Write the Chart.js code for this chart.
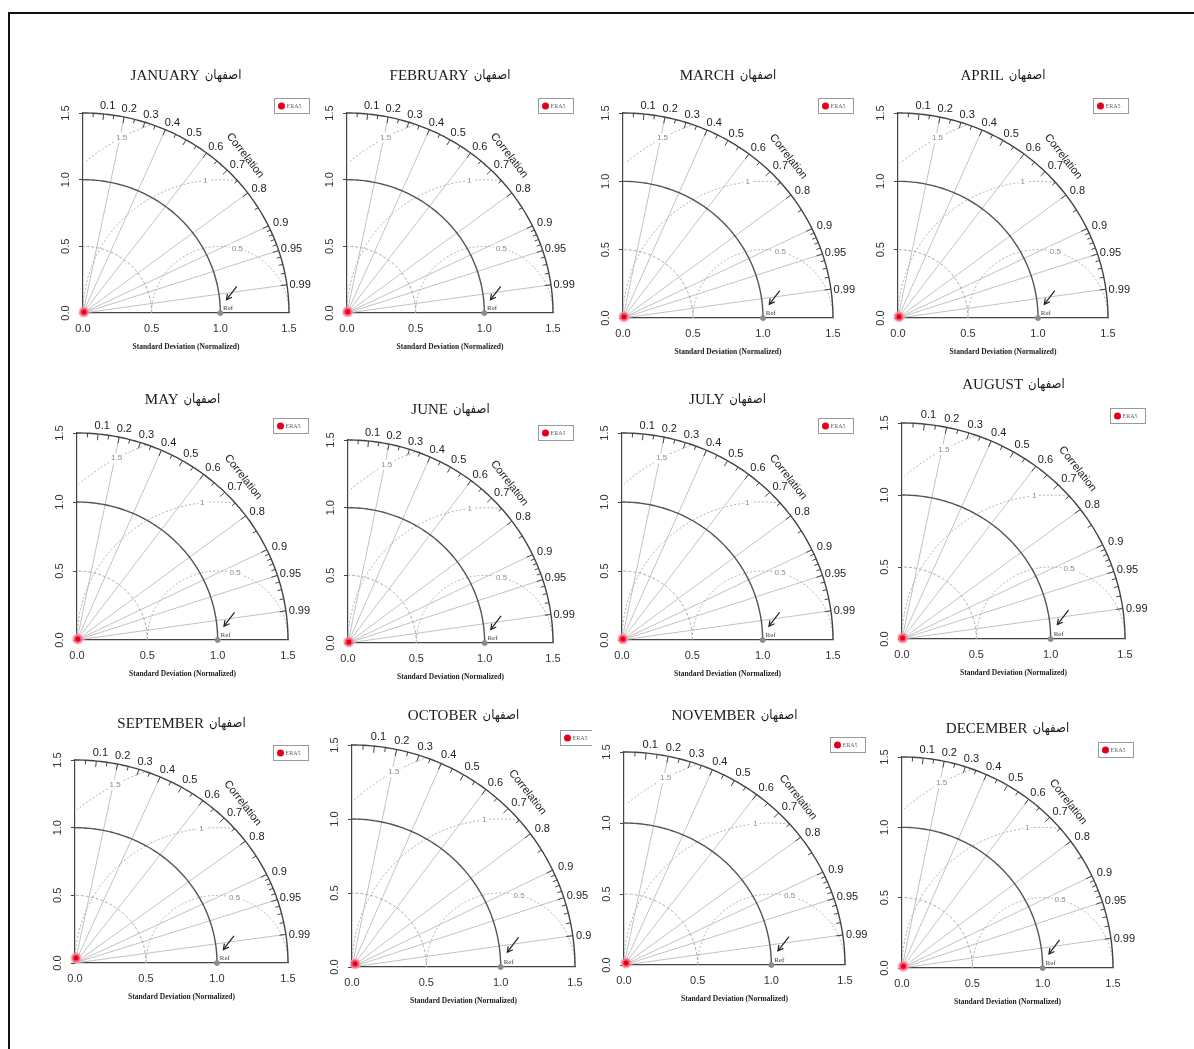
<!DOCTYPE html>
<html lang="en">
<head>
<meta charset="UTF-8">
<title>Taylor diagrams - Isfahan</title>
<script src="https://cdn.jsdelivr.net/npm/chart.js"></script>
<style>
    body {
        margin: 0;
        background: #fff;
        width: 1194px;
        height: 1049px;
        overflow: hidden;
        position: relative;
    }
    #frame {
        position: absolute;
        left: 8px;
        top: 12px;
        width: 1300px;
        height: 1100px;
        border-left: 2px solid #111;
        border-top: 2px solid #111;
    }
    canvas { position: absolute; }
</style>
</head>
<body>
<div id="frame"></div>
<script>
// ---- data ----
const months = ['JANUARY', 'FEBRUARY', 'MARCH', 'APRIL', 'MAY', 'JUNE',
                'JULY', 'AUGUST', 'SEPTEMBER', 'OCTOBER', 'NOVEMBER', 'DECEMBER'];
const station = 'اصفهان';
const seriesName = 'ERA5';
// normalized standard deviation and correlation of ERA5 for each month
const era5Sd   = [0.010, 0.010, 0.012, 0.012, 0.010, 0.010, 0.010, 0.008, 0.037, 0.030, 0.020, 0.015];
const era5Corr = [0.70, 0.50, 0.60, 0.60, 0.60, 0.60, 0.60, 0.50, 0.20, 0.70, 0.70, 0.60];
const refSd = 1.0;
const sdMax = 1.5;
const axisTicks = [0, 0.5, 1.0, 1.5];
const corrLabels = [0.1, 0.2, 0.3, 0.4, 0.5, 0.6, 0.7, 0.8, 0.9, 0.95, 0.99];
const corrMinor = [0.05, 0.15, 0.25, 0.35, 0.45, 0.55, 0.65, 0.75, 0.85, 0.91, 0.92, 0.93, 0.94, 0.96, 0.97, 0.98];
const corrRays = [0.2, 0.4, 0.6, 0.8, 0.9, 0.95, 0.99];
const rmsLevels = [0.5, 1, 1.5];

// panel placement: origin x, origin y, px for 1.5 on x, px for 1.5 on y, title y
const panelBoxes = [
    [83, 313, 206, 200, 76], [347, 313, 206, 200, 76], [623, 318, 210, 205, 76], [898, 318, 210, 205, 76],
    [77, 640, 211, 207, 400], [348, 643, 205, 203, 410], [622, 640, 211, 207, 400], [902, 639, 223, 216, 385],
    [75, 963, 213, 203, 724], [352, 967, 223, 222, 716], [624, 965, 221, 213, 716], [902, 968, 211, 211, 729]
];

const SANS = "'Liberation Sans', Arial, sans-serif";
const SERIF = "'Liberation Serif', 'DejaVu Serif', serif";
const FARSI = "'DejaVu Sans Condensed', 'DejaVu Sans', sans-serif";
const rmsLabelAngles = [1.32, 1.68, 2.07];

// Taylor diagram grid drawn through the chart's own scales
const taylorGrid = {
    id: 'taylorGrid',
    beforeDatasetsDraw(chart) {
        const { ctx, scales: { x: xs, y: ys } } = chart;
        const px = (x, y) => [xs.getPixelForValue(x), ys.getPixelForValue(y)];
        const polar = (r, t) => px(r * Math.cos(t), r * Math.sin(t));
        const path = pts => {
            ctx.beginPath();
            pts.forEach((p, k) => k ? ctx.lineTo(p[0], p[1]) : ctx.moveTo(p[0], p[1]));
            ctx.stroke();
        };
        const sdArc = r => {
            const pts = [];
            for (let d = 0; d <= 90; d++) pts.push(polar(r, d * Math.PI / 180));
            return pts;
        };
        ctx.save();

        // correlation rays
        ctx.strokeStyle = '#c2c2c2';
        ctx.lineWidth = 1;
        corrRays.forEach(c => path([px(0, 0), polar(sdMax, Math.acos(c))]));

        // centered RMS arcs around the reference
        ctx.setLineDash([2, 2]);
        ctx.strokeStyle = '#b0b0b0';
        rmsLevels.forEach(g => {
            const pts = [];
            for (let d = 0; d <= 180; d++) {
                const t = d * Math.PI / 180;
                const x = refSd + g * Math.cos(t), y = g * Math.sin(t);
                if (x >= -1e-9 && x * x + y * y <= sdMax * sdMax + 1e-9) pts.push(px(x, y));
            }
            path(pts);
        });
        ctx.setLineDash([]);
        ctx.font = '8px ' + SANS;
        ctx.textAlign = 'center';
        ctx.textBaseline = 'middle';
        rmsLevels.forEach((g, k) => {
            const t = rmsLabelAngles[k];
            const [lx, ly] = px(refSd + g * Math.cos(t), g * Math.sin(t));
            const w = ctx.measureText(String(g)).width + 4;
            ctx.fillStyle = '#fff';
            ctx.fillRect(lx - w / 2, ly - 5, w, 10);
            ctx.fillStyle = '#8a8a8a';
            ctx.fillText(String(g), lx, ly);
        });

        // sd arcs
        ctx.setLineDash([3, 2]);
        ctx.strokeStyle = '#9ea2c6';
        path(sdArc(0.5));
        ctx.setLineDash([]);
        ctx.strokeStyle = '#555';
        ctx.lineWidth = 1.4;
        path(sdArc(refSd));
        ctx.strokeStyle = '#444';
        path(sdArc(sdMax));

        // ticks on the outer arc
        ctx.lineWidth = 1;
        corrMinor.forEach(c => path([polar(sdMax, Math.acos(c)), polar(sdMax - 0.03, Math.acos(c))]));
        corrLabels.forEach(c => path([polar(sdMax, Math.acos(c)), polar(sdMax - 0.045, Math.acos(c))]));

        // correlation labels
        ctx.fillStyle = '#222';
        ctx.font = '11px ' + SANS;
        corrLabels.forEach(c => {
            const [lx, ly] = polar(sdMax * 1.05, Math.acos(c));
            ctx.fillText(String(c), lx + 3, ly + 2);
        });
        const [cx, cy] = polar(1.67, Math.PI / 4);
        ctx.save();
        ctx.translate(cx, cy);
        ctx.rotate(52 * Math.PI / 180);
        ctx.fillText('Correlation', 0, 0);
        ctx.restore();

        // reference label and arrow
        ctx.font = '7px ' + SERIF;
        ctx.textAlign = 'left';
        ctx.fillStyle = '#444';
        const [rx, ry] = px(refSd + 0.02, 0.035);
        ctx.fillText('Ref', rx, ry);
        const [ax0, ay0] = px(refSd + 0.12, 0.2);
        const [ax1, ay1] = px(refSd + 0.045, 0.1);
        ctx.strokeStyle = '#222';
        ctx.lineWidth = 1.2;
        path([[ax0, ay0], [ax1, ay1]]);
        const ang = Math.atan2(ay1 - ay0, ax1 - ax0);
        path([[ax1 - 6 * Math.cos(ang - 0.5), ay1 - 6 * Math.sin(ang - 0.5)], [ax1, ay1],
              [ax1 - 6 * Math.cos(ang + 0.5), ay1 - 6 * Math.sin(ang + 0.5)]]);
        ctx.restore();
    },
    afterDraw(chart, args, opts) {
        const { ctx, chartArea: ca } = chart;
        ctx.save();

        // panel title: month in serif, station name in a narrow Arabic-script font
        ctx.textBaseline = 'middle';
        ctx.textAlign = 'left';
        ctx.fillStyle = '#1a1a1a';
        ctx.font = '15px ' + SERIF;
        const wL = ctx.measureText(opts.month).width;
        ctx.font = '13px ' + FARSI;
        const wP = ctx.measureText(opts.station).width;
        const x0 = (ca.left + ca.right) / 2 - (wL + 5 + wP) / 2;
        ctx.font = '15px ' + SERIF;
        ctx.fillText(opts.month, x0, opts.titleY);
        ctx.font = '13px ' + FARSI;
        ctx.fillText(opts.station, x0 + wL + 5, opts.titleY);

        // small boxed legend at the top right
        const ds = chart.data.datasets[0];
        const bx = Math.round(ca.right - 15) + 0.5, by = Math.round(ca.top - 15) + 0.5;
        ctx.fillStyle = '#fff';
        ctx.fillRect(bx, by, 35, 15);
        ctx.strokeStyle = '#999';
        ctx.lineWidth = 1;
        ctx.strokeRect(bx, by, 35, 15);
        ctx.beginPath();
        ctx.arc(bx + 7, by + 7.5, 3.5, 0, Math.PI * 2);
        ctx.fillStyle = ds.backgroundColor;
        ctx.fill();
        ctx.fillStyle = '#666';
        ctx.font = '6px ' + SERIF;
        ctx.fillText(ds.label, bx + 12, by + 8);
        ctx.restore();
    }
};

const L = 34, B = 38;
months.forEach((month, i) => {
    const [ox, oy, rx, ry, ty] = panelBoxes[i];
    const padR = i === 9 ? 17 : 32;
    const top = ty - 14;
    const W = L + rx + padR, H = (oy - top) + B + 4;
    const cv = document.createElement('canvas');
    cv.width = W;
    cv.height = H;
    cv.style.left = (ox - L) + 'px';
    cv.style.top = top + 'px';
    cv.style.width = W + 'px';
    cv.style.height = H + 'px';
    document.body.appendChild(cv);

    const s = era5Sd[i], c = era5Corr[i];
    new Chart(cv, {
        type: 'scatter',
        data: {
            datasets: [
                {
                    label: seriesName,
                    data: [{ x: s * c, y: s * Math.sqrt(1 - c * c) }],
                    backgroundColor: '#e3001b',
                    borderColor: 'rgba(255, 140, 160, 0.7)',
                    borderWidth: 3,
                    pointRadius: 4,
                    clip: false
                },
                {
                    label: 'Ref',
                    data: [{ x: refSd, y: 0 }],
                    backgroundColor: '#8c8c8c',
                    borderColor: '#8c8c8c',
                    pointRadius: 2.5,
                    clip: false
                }
            ]
        },
        options: {
            responsive: false,
            animation: false,
            devicePixelRatio: 1,
            layout: { padding: { left: 0, right: padR, top: (oy - ry) - top, bottom: 4 } },
            plugins: {
                legend: { display: false },
                tooltip: { enabled: false },
                title: { display: false },
                taylorGrid: { month: month, station: station, titleY: ty - top }
            },
            scales: {
                x: {
                    type: 'linear',
                    min: 0,
                    max: sdMax,
                    afterFit: sc => { sc.height = B; },
                    afterBuildTicks: sc => { sc.ticks = axisTicks.map(v => ({ value: v })); },
                    grid: { display: false, drawTicks: false },
                    border: { color: '#444', width: 1.2 },
                    ticks: {
                        padding: 9,
                        color: '#333',
                        font: { family: SANS, size: 11 },
                        callback: v => v.toFixed(1)
                    },
                    title: {
                        display: true,
                        text: 'Standard Deviation (Normalized)',
                        color: '#222',
                        font: { family: SERIF, size: 7.5, weight: 'bold', lineHeight: 1 },
                        padding: 0
                    }
                },
                y: {
                    type: 'linear',
                    min: 0,
                    max: sdMax,
                    afterFit: sc => { sc.width = L; },
                    afterBuildTicks: sc => { sc.ticks = axisTicks.map(v => ({ value: v })); },
                    grid: { display: true, drawOnChartArea: false, drawTicks: true, tickLength: 4, color: '#444' },
                    border: { color: '#444', width: 1.2 },
                    ticks: {
                        minRotation: 90,
                        maxRotation: 90,
                        crossAlign: 'center',
                        padding: 5,
                        color: '#333',
                        font: { family: SANS, size: 11 },
                        callback: v => v.toFixed(1)
                    }
                }
            }
        },
        plugins: [taylorGrid]
    });
});
</script>
</body>
</html>
